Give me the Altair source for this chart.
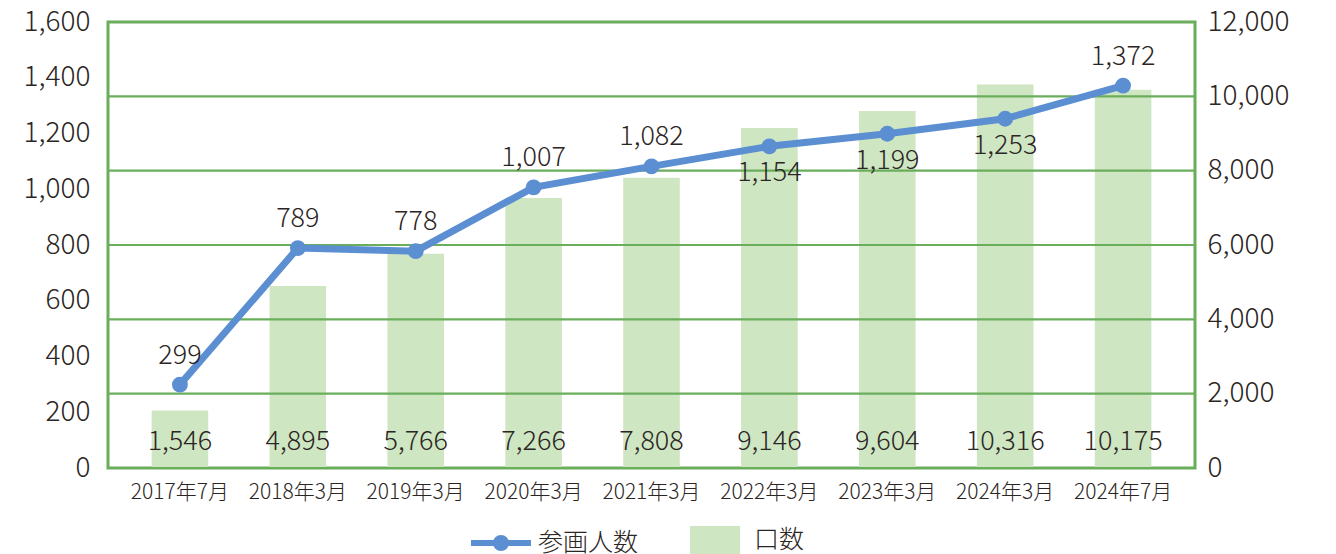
import altair as alt
import pandas as pd

categories = ["2017年7月", "2018年3月", "2019年3月", "2020年3月", "2021年3月",
              "2022年3月", "2023年3月", "2024年3月", "2024年7月"]
participants = [299, 789, 778, 1007, 1082, 1154, 1199, 1253, 1372]
units = [1546, 4895, 5766, 7266, 7808, 9146, 9604, 10316, 10175]
labels_below = ["2022年3月", "2023年3月", "2024年3月"]
left_ticks = [0, 200, 400, 600, 800, 1000, 1200, 1400, 1600]
right_ticks = [0, 2000, 4000, 6000, 8000, 10000, 12000]

df = pd.DataFrame({"period": categories, "participants": participants, "units": units})
df["line_name"] = "参画人数"
df["bar_name"] = "口数"
grid_df = pd.DataFrame({"g": right_ticks})

FONT = "Noto Sans CJK JP"
TXT = "#2b2523"
BLUE = "#5b8fd2"
BARC = "#cfe6c3"
GRID = "#6aae5c"
W = 300

xenc = alt.X("period:N", sort=categories,
             scale=alt.Scale(paddingInner=0.52, paddingOuter=0.37),
             axis=alt.Axis(title=None, labelAngle=0, domain=False, ticks=False,
                           labelPadding=13, labelFontSize=21, labelColor=TXT,
                           labelFont=FONT, labelFontWeight=W))

yr_scale = alt.Scale(domain=[0, 12000], nice=False)
yl_scale = alt.Scale(domain=[0, 1600], nice=False)

right_axis = alt.Axis(title=None, orient="right", values=right_ticks, grid=False,
                      domain=False, ticks=False, labelPadding=12,
                      labelFontSize=28, labelColor=TXT, labelFont=FONT,
                      labelFontWeight=W, format=",d")
left_axis = alt.Axis(title=None, orient="left", values=left_ticks, grid=False,
                     domain=False, ticks=False, labelPadding=18,
                     labelFontSize=28, labelColor=TXT, labelFont=FONT,
                     labelFontWeight=W, format=",d")

bars = alt.Chart(df).mark_bar(color=BARC).encode(
    x=xenc,
    y=alt.Y("units:Q", scale=yr_scale, axis=right_axis),
    fill=alt.Fill("bar_name:N",
                  scale=alt.Scale(domain=["口数"], range=[BARC]),
                  legend=alt.Legend(title=None, orient="none", legendX=582, legendY=493,
                                    symbolType="M-1,-0.56L1,-0.56L1,0.56L-1,0.56Z",
                                    symbolSize=2500, symbolStrokeWidth=0,
                                    labelFontSize=25, labelFont=FONT, labelColor=TXT,
                                    labelFontWeight=W, labelOffset=14, labelLimit=300)),
)

grid = alt.Chart(grid_df).mark_rule(color=GRID, strokeWidth=2.2).encode(
    y=alt.Y("g:Q", scale=yr_scale, axis=right_axis)
)

bar_text = alt.Chart(df).mark_text(fontSize=27, font=FONT, color=TXT, fontWeight=W,
                                   baseline="middle").encode(
    x=alt.X("period:N", sort=categories),
    y=alt.YDatum(700, type="quantitative", scale=yr_scale, axis=right_axis),
    text=alt.Text("units:Q", format=",d"),
)

line_symbol = ("M-1,0L1,0M0.17,0A0.17,0.17 0 1,1 -0.17,0"
               "A0.17,0.17 0 1,1 0.17,0Z")

line = alt.Chart(df).mark_line(strokeWidth=7, color=BLUE).encode(
    x=alt.X("period:N", sort=categories),
    y=alt.Y("participants:Q", scale=yl_scale, axis=left_axis),
    stroke=alt.Stroke("line_name:N",
                      scale=alt.Scale(domain=["参画人数"], range=[BLUE]),
                      legend=alt.Legend(title=None, orient="none", legendX=360, legendY=488,
                                        symbolType=line_symbol, symbolSize=3600,
                                        symbolFillColor=BLUE, symbolStrokeColor=BLUE,
                                        symbolStrokeWidth=6, symbolOpacity=1,
                                        labelFontSize=25, labelFont=FONT, labelColor=TXT,
                                        labelFontWeight=W, labelOffset=4, labelLimit=300)),
)

points = alt.Chart(df).mark_circle(size=250, color=BLUE, opacity=1).encode(
    x=alt.X("period:N", sort=categories),
    y=alt.Y("participants:Q", scale=yl_scale, axis=left_axis),
)

above = alt.Chart(df).transform_filter(
    ~alt.FieldOneOfPredicate(field="period", oneOf=labels_below)
).mark_text(fontSize=27, font=FONT, color=TXT, fontWeight=W, dy=-29).encode(
    x=alt.X("period:N", sort=categories),
    y=alt.Y("participants:Q", scale=yl_scale, axis=left_axis),
    text=alt.Text("participants:Q", format=",d"),
)

below = alt.Chart(df).transform_filter(
    alt.FieldOneOfPredicate(field="period", oneOf=labels_below)
).mark_text(fontSize=27, font=FONT, color=TXT, fontWeight=W, dy=27).encode(
    x=alt.X("period:N", sort=categories),
    y=alt.Y("participants:Q", scale=yl_scale, axis=left_axis),
    text=alt.Text("participants:Q", format=",d"),
)

right_layer = alt.layer(bars, grid, bar_text)
left_layer = alt.layer(line, points, above, below)

chart = alt.layer(right_layer, left_layer).resolve_scale(
    y="independent", fill="independent", stroke="independent"
).properties(
    width=1087, height=446,
    autosize=alt.AutoSizeParams(type="none"),
    padding={"left": 108, "top": 22, "right": 141, "bottom": 86},
    view=alt.ViewBackground(stroke=GRID, strokeWidth=3),
).configure_view(
    stroke=GRID, strokeWidth=3
).configure(font=FONT)

chart.save("out.html", embed_options={"renderer": "svg", "actions": False})
